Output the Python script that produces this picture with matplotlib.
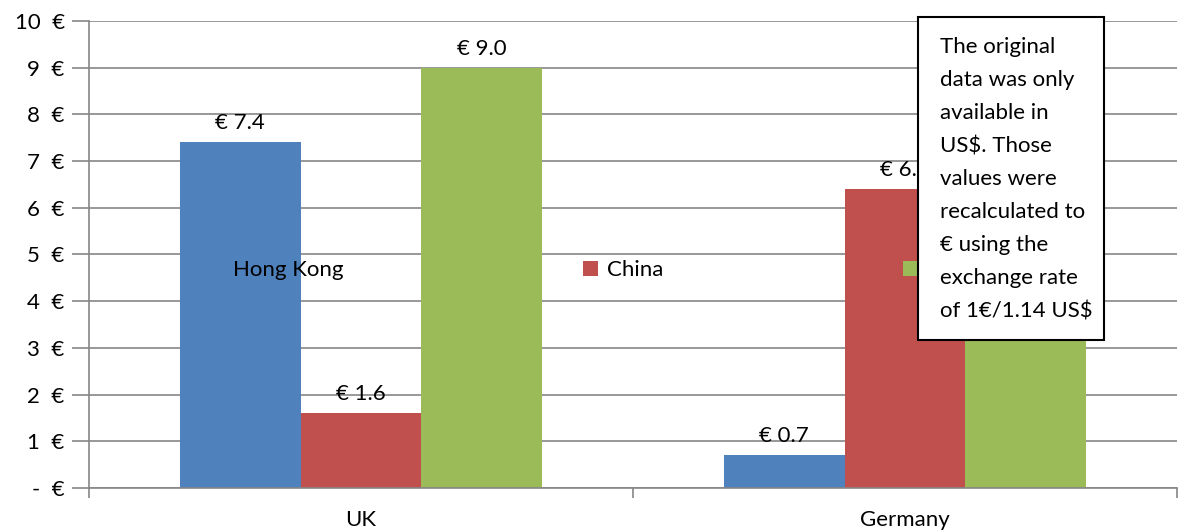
import matplotlib
matplotlib.use("Agg")
import matplotlib.pyplot as plt
import numpy as np
from matplotlib.patches import Rectangle

plt.rcParams['font.family'] = ['Lato', 'DejaVu Sans']
plt.rcParams['font.size'] = 16

# price in euro per country
countries = ["UK", "Germany"]
series = ["Hong Kong", "China", "USA"]
hong_kong = [7.4, 0.7]
china = [1.6, 6.4]
usa = [9.0, 4.3]
colors = ["#4F81BD", "#C0504D", "#9BBB59"]
yticks = [0, 1, 2, 3, 4, 5, 6, 7, 8, 9, 10]
note = ("The original\ndata was only\navailable in\nUS$. Those\nvalues were\n"
        "recalculated to\n€ using the\nexchange rate\nof 1€/1.14 US$")

fig = plt.figure(figsize=(11.82, 5.31), dpi=100)
ax = fig.add_axes([0.0753, 0.081, 0.9205, 0.8795])

x = np.arange(len(countries))
w = 1 / 4.5
for i, (vals, c) in enumerate(zip([hong_kong, china, usa], colors)):
    bars = ax.bar(x + (i - 1) * w, vals, w, color=c, zorder=2, label=series[i])
    ax.bar_label(bars, labels=["€ %.1f" % v for v in vals], padding=6.5, zorder=3)

ax.set_xlim(-0.5, 1.5)
ax.set_ylim(0, 10)
ax.set_yticks(yticks)
ax.set_yticklabels(["-  €" if v == 0 else "%d  €" % v for v in yticks])
ax.set_xticks(x)
ax.set_xticklabels(countries)
ax.set_xticks([-0.5, 0.5, 1.5], minor=True)
ax.tick_params(axis='x', which='major', length=0, pad=15.5)
ax.tick_params(axis='x', which='minor', length=7, color="#868686", width=1.2)
ax.tick_params(axis='y', length=12, color="#868686", width=1.2, pad=5.5)
ax.grid(axis='y', color="#868686", linewidth=1.2, zorder=0)
ax.set_axisbelow(True)
for s in ["top", "right"]:
    ax.spines[s].set_visible(False)
for s in ["left", "bottom"]:
    ax.spines[s].set_color("#868686")
    ax.spines[s].set_linewidth(1.2)

leg = ax.legend(loc='center left', bbox_to_anchor=(0.0928, 0.467), ncol=3, frameon=False,
                handlelength=0.65, handleheight=0.65, handletextpad=0.4, columnspacing=10.78)
leg.set_zorder(4)

# note box over the chart
box = Rectangle((918 / 1182, 1 - 340 / 531), (1104 - 918) / 1182, (340 - 17) / 531,
                transform=fig.transFigure, facecolor="white", edgecolor="black",
                linewidth=1.5, zorder=10)
fig.patches.append(box)
fig.text(940 / 1182, 1 - 37 / 531, note, ha='left', va='top',
         linespacing=1.815, zorder=11)

fig.savefig("out.png", dpi=100)
